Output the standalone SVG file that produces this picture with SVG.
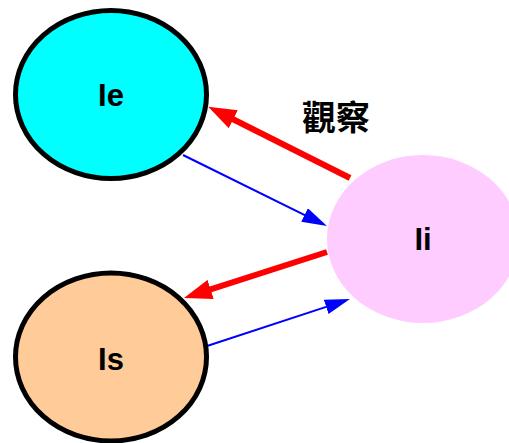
<svg xmlns="http://www.w3.org/2000/svg" width="509" height="443" viewBox="0 0 509 443">
<style>
.node{stroke:#000;stroke-width:5}
.lbl{font-family:"Liberation Sans",Arial,sans-serif;font-weight:bold;font-size:31px;fill:#000;text-anchor:middle}
.cjk{font-family:"Noto Sans CJK TC","Noto Sans CJK SC",sans-serif;font-weight:bold;font-size:34px;fill:#000;text-anchor:middle}
.red{stroke:#FF0000;stroke-width:6;fill:none}
.blue{stroke:#0000FF;stroke-width:2;fill:none}
</style>
<defs>
<marker id="ah-red" markerUnits="userSpaceOnUse" markerWidth="28" markerHeight="20" viewBox="0 0 28 20" refX="18" refY="10" orient="auto"><path d="M0,0 L28,10 L0,20 z" fill="#FF0000"/></marker>
<marker id="ah-blue" markerUnits="userSpaceOnUse" markerWidth="25" markerHeight="15" viewBox="0 0 25 15" refX="20" refY="7.5" orient="auto"><path d="M0,0 L25,7.5 L0,15 z" fill="#0000FF"/></marker>
</defs>
<rect width="509" height="443" fill="#fff"/>
<g id="connectors">
<line class="red" x1="350" y1="178" x2="217.2" y2="111.2" marker-end="url(#ah-red)"/>
<line class="blue" x1="183" y1="155" x2="322.5" y2="223.8" marker-end="url(#ah-blue)"/>
<line class="red" x1="327" y1="252" x2="193.5" y2="294.9" marker-end="url(#ah-red)"/>
<line class="blue" x1="207" y1="346" x2="345.2" y2="300.6" marker-end="url(#ah-blue)"/>
</g>
<g id="node-Ie">
<ellipse class="node" cx="111" cy="94.5" rx="95.5" ry="84" fill="#00FFFF"/>
<text class="lbl" x="111" y="106">Ie</text>
</g>
<g id="node-Ii">
<ellipse cx="423" cy="239" rx="96" ry="84" fill="#FFCCFF"/>
<text class="lbl" x="423" y="250">Ii</text>
</g>
<g id="node-Is">
<ellipse class="node" cx="111" cy="357" rx="95.5" ry="84" fill="#FFCC99"/>
<text class="lbl" x="111" y="370">Is</text>
</g>
<g id="label-observe">
<text class="cjk" x="336" y="130">觀察</text>
</g>
</svg>
